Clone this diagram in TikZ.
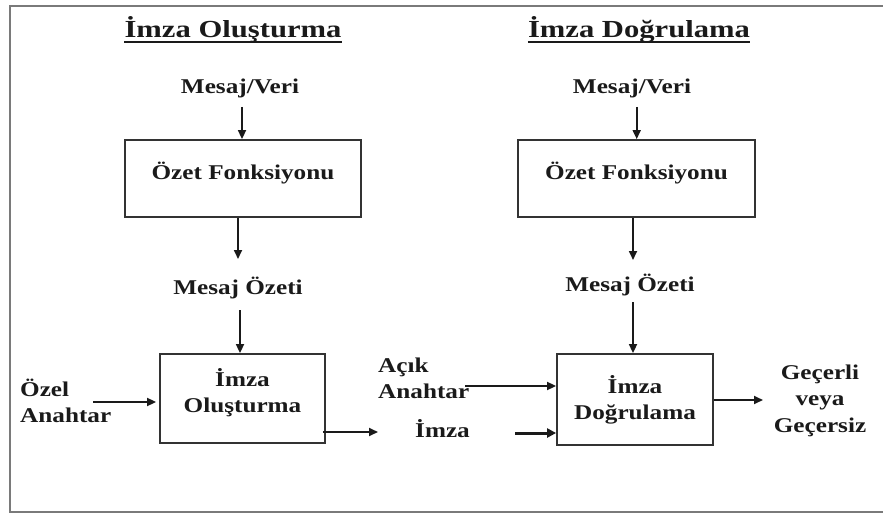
\documentclass[tikz,border=0pt]{standalone}
\usepackage{fontspec}
\setmainfont{Liberation Serif}[FakeStretch=1.2]
\newfontfamily\headfont{Liberation Serif}[FakeStretch=1.25]
\usetikzlibrary{arrows.meta}
\definecolor{ink}{HTML}{1A1A1A}
\definecolor{edge}{HTML}{333333}
\definecolor{framegray}{HTML}{7A7A7A}
\tikzset{
  lbl/.style={inner sep=0pt, text=ink, font=\fontsize{21}{26.5}\selectfont\bfseries},
  ttl/.style={inner sep=0pt, text=ink, font=\headfont\fontsize{24.5}{28}\selectfont\bfseries},
  box/.style={draw=edge, line width=1.8pt, inner sep=0pt, text=ink,
    font=\fontsize{21}{26.5}\selectfont\bfseries},
  arr/.style={draw=ink, line width=1.7pt, -{Triangle[length=9pt,width=8pt]}},
  uline/.style={draw=ink, line width=1.5pt},
  frame/.style={draw=framegray, line width=2pt}
}
\newcommand{\twoline}[3]{\begin{tabular}[t]{@{}#1@{}}#2\\#3\end{tabular}}
\begin{document}
\begin{tikzpicture}[x=1pt,y=-1pt]
\useasboundingbox (0,0) rectangle (883,513);
\fill[white] (0,0) rectangle (883,513);
\draw[frame] (895,6) -- (10,6) -- (10,512) -- (895,512);

% titles
\node[ttl, anchor=base] (t1) at (233,38) {İmza Oluşturma};
\node[ttl, anchor=base] (t2) at (639,38) {İmza Doğrulama};
\draw[uline] ([yshift=-4pt]t1.base west) -- ([yshift=-4pt]t1.base east);
\draw[uline] ([yshift=-4pt]t2.base west) -- ([yshift=-4pt]t2.base east);

% signing side
\node[lbl, anchor=base] (mv1) at (240,94) {Mesaj/Veri};
\node[box, minimum width=236pt, minimum height=77pt, text height=12pt, text depth=9pt]
  (of1) at (243,178.5) {Özet Fonksiyonu};
\node[lbl, anchor=base] (mo1) at (238,294) {Mesaj Özeti};
\node[box, minimum width=165pt, minimum height=89pt, text height=18pt, text depth=43pt]
  (io) at (242.5,398.5) {\twoline{c}{İmza}{Oluşturma}};
\node[lbl, anchor=base west] (oa) at (20,396) {\twoline{l}{Özel}{Anahtar}};
\node[lbl, anchor=base west] (im) at (415,437) {İmza};

% verification side
\node[lbl, anchor=base] (mv2) at (632,94) {Mesaj/Veri};
\node[box, minimum width=237pt, minimum height=77pt, text height=12pt, text depth=9pt]
  (of2) at (636.5,178.5) {Özet Fonksiyonu};
\node[lbl, anchor=base] (mo2) at (630,291) {Mesaj Özeti};
\node[box, minimum width=156pt, minimum height=91pt, text height=18pt, text depth=31pt]
  (id) at (635,399.5) {\twoline{c}{İmza}{Doğrulama}};
\node[lbl, anchor=base west] (aa) at (378,372) {\twoline{l}{Açık}{Anahtar}};
\node[lbl, anchor=base] (gv) at (820,379) {\begin{tabular}[t]{@{}c@{}}Geçerli\\veya\\Geçersiz\end{tabular}};

% connector ends
\coordinate (p1) at (242,107);
\coordinate (p2) at (238,259);
\coordinate (p3) at (240,310);
\coordinate (p4) at (93,402);
\coordinate (p5) at (378,432);
\coordinate (q1) at (636.7,107);
\coordinate (q2) at (633,260);
\coordinate (q3) at (633,302);
\coordinate (q4) at (465,386);
\coordinate (q5) at (515,433);
\coordinate (q6) at (763,400);

% signing connectors
\draw[arr] (p1) -- (p1 |- of1.north);
\draw[arr] (p2 |- of1.south) -- (p2);
\draw[arr] (p3) -- (p3 |- io.north);
\draw[arr, shorten >=3pt] (p4) -- (p4 -| io.west);
\draw[arr] ([xshift=-3pt]p5 -| io.east) -- (p5);

% verification connectors
\draw[arr] (q1) -- (q1 |- of2.north);
\draw[arr] (q2 |- of2.south) -- (q2);
\draw[arr] (q3) -- (q3 |- id.north);
\draw[arr] (q4) -- (q4 -| id.west);
\draw[arr, line width=3pt, -{Triangle[length=9pt,width=9pt]}] (q5) -- (q5 -| id.west);
\draw[arr] (q6 -| id.east) -- (q6);
\end{tikzpicture}
\end{document}
